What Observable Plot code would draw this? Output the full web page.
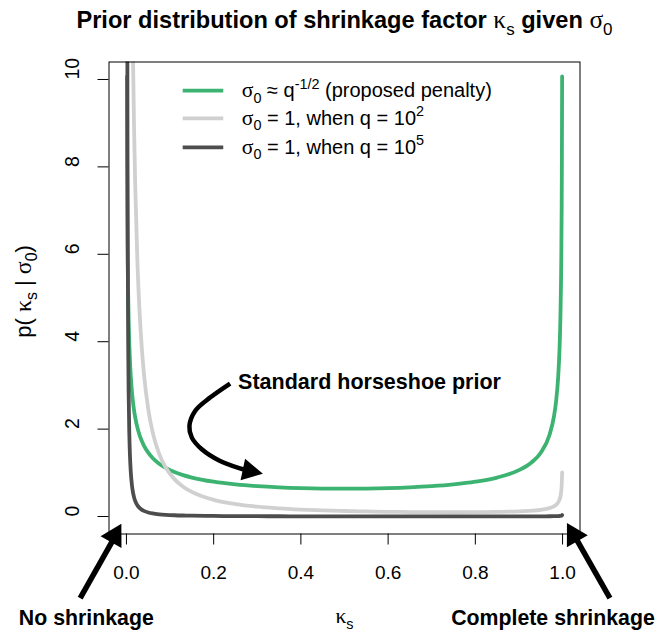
<!DOCTYPE html>
<html>
<head>
<meta charset="utf-8">
<script src="https://cdn.jsdelivr.net/npm/d3@7"></script>
<script src="https://cdn.jsdelivr.net/npm/@observablehq/plot@0.6"></script>
<style>
  html, body { margin: 0; padding: 0; background: white; }
  #chart { width: 657px; height: 637px; }
</style>
</head>
<body>
<div id="chart"></div>
<script>
// ---------- data ----------
const kappa = [0.001, 0.0015, 0.002, 0.0025, 0.003, 0.004, 0.005, 0.0065, 0.008, 0.01,
  0.0125, 0.015, 0.0175, 0.02, 0.025, 0.03, 0.035, 0.04, 0.05, 0.06, 0.075, 0.09, 0.11,
  0.13, 0.15, 0.2, 0.25, 0.3, 0.35, 0.4, 0.45, 0.5, 0.55, 0.6, 0.65, 0.7, 0.75, 0.8, 0.85,
  0.9, 0.93, 0.95, 0.97, 0.98, 0.985, 0.99, 0.993, 0.995, 0.997, 0.998, 0.9985, 0.999];

const densityProposed = [10.07, 8.225, 7.125, 6.374, 5.82, 5.043, 4.513, 3.961, 3.573, 3.199,
  2.865, 2.619, 2.427, 2.274, 2.039, 1.866, 1.732, 1.624, 1.461, 1.34, 1.2085, 1.1123, 1.0173,
  0.9465, 0.8914, 0.7958, 0.7351, 0.6946, 0.6674, 0.6497, 0.6398, 0.6366, 0.6398, 0.6497, 0.6674,
  0.6946, 0.7351, 0.7958, 0.8914, 1.061, 1.2476, 1.461, 1.866, 2.274, 2.619, 3.199, 3.818, 4.513,
  5.82, 7.125, 8.225, 10.07];

const densityQ100 = [91.6, 71.6, 59.5, 51.1, 44.9, 36.1, 30.2, 24.1, 19.94, 16.08,
  12.8, 10.54, 8.882, 7.631, 5.868, 4.7, 3.879, 3.274, 2.455, 1.931, 1.434, 1.1224, 0.8556,
  0.6824, 0.5624, 0.3826, 0.2855, 0.2263, 0.1872, 0.16, 0.1405, 0.1261, 0.1154, 0.1076, 0.1021,
  0.0988, 0.0977, 0.0992, 0.1047, 0.1178, 0.1341, 0.1537, 0.1923, 0.232, 0.2658, 0.3231, 0.3845,
  0.4535, 0.5837, 0.7139, 0.8237, 1.008];

const densityQ1e5 = [31.53, 17.23, 11.21, 8.03, 6.115, 3.977, 2.849, 1.924, 1.411, 1.0106,
  0.7242, 0.5518, 0.4383, 0.3594, 0.2578, 0.1966, 0.1564, 0.1284, 0.0924, 0.0706, 0.051, 0.0391,
  0.0292, 0.023, 0.0188, 0.01258, 0.0093, 0.0073, 0.006, 0.0051, 0.0045, 0.004, 0.0037, 0.0034,
  0.0032, 0.0031, 0.0031, 0.0031, 0.0033, 0.0037, 0.0042, 0.0049, 0.0061, 0.0073, 0.0084, 0.0102,
  0.0122, 0.0143, 0.0185, 0.0226, 0.026, 0.0319];

const seriesLabels = [
  "σ_{0} ≈ q^{-1/2} (proposed penalty)",
  "σ_{0} = 1, when q = 10^{2}",
  "σ_{0} = 1, when q = 10^{5}"
];
const seriesColors = ["#3cb371", "#d0d0d0", "#4d4d4d"];

const xTicks = [0, 0.2, 0.4, 0.6, 0.8, 1.0];
const yTicks = [0, 2, 4, 6, 8, 10];

const titleText = "Prior distribution of shrinkage factor κ_{s} given σ_{0}";
const xLabel = "κ_{s}";
const yLabel = "p( κ_{s} | σ_{0})";
const annotationTexts = ["Standard horseshoe prior", "No shrinkage", "Complete shrinkage"];

// ---------- annotation placement (data units) ----------
const legendPos = {x1: 0.129, x2: 0.222, xText: 0.2645, y: [9.746, 9.111, 8.447]};
const annotationPos = [
  {x: 0.256, y: 3.08},
  {x: -0.092, y: -2.325},
  {x: 0.978, y: -2.325}
];
const straightArrows = [
  {tail: [-0.1061, -1.867], tip: [-0.0105, -0.179]},
  {tail: [1.1086, -1.867], tip: [1.0112, -0.160]}
];
const curvedArrowX = [0.2377, 0.1918, 0.1575, 0.1444, 0.1499, 0.1728, 0.2148, 0.2835];
const curvedArrowY = [3.042, 2.721, 2.416, 2.073, 1.805, 1.539, 1.271, 1.031];
const curvedArrowTip = [0.314, 0.967];

// ---------- build table ----------
const series = [densityProposed, densityQ100, densityQ1e5];
const rows = [];
series.forEach((vals, s) => vals.forEach((v, i) => rows.push({s, kappa: kappa[i], density: v})));

const legendRows = seriesLabels.map((label, i) => ({i, label}));
const shaftFrac = 0.82;

const headMark = (index, scales) => {
  const g = d3.create("svg:g");
  const heads = [
    ...straightArrows.map(a => ({from: a.tail, to: a.tip, L: 21, w: 12})),
    {from: [curvedArrowX[curvedArrowX.length - 1], curvedArrowY[curvedArrowY.length - 1]], to: curvedArrowTip, L: 20.5, w: 11}
  ];
  for (const h of heads) {
    const x0 = scales.x(h.from[0]), y0 = scales.y(h.from[1]);
    const x1 = scales.x(h.to[0]), y1 = scales.y(h.to[1]);
    const len = Math.hypot(x1 - x0, y1 - y0);
    const ux = (x1 - x0) / len, uy = (y1 - y0) / len;
    const nx = -uy, ny = ux;
    const bx = x1 - h.L * ux, by = y1 - h.L * uy;
    g.append("path")
      .attr("d", `M${x1},${y1}L${bx + h.w * nx},${by + h.w * ny}L${bx - h.w * nx},${by - h.w * ny}Z`)
      .attr("fill", "black");
  }
  return g.node();
};

const plot = Plot.plot({
  width: 657,
  height: 637,
  marginTop: 61.5,
  marginBottom: 103.5,
  marginLeft: 108.5,
  marginRight: 77.5,
  style: {fontFamily: "'Liberation Sans', Arial, sans-serif", background: "white", color: "black"},
  x: {domain: [-0.04, 1.04], axis: null},
  y: {domain: [-0.4, 10.4], axis: null},
  marks: [
    // curves
    Plot.line(rows, {x: "kappa", y: "density", z: "s", stroke: d => seriesColors[d.s],
      strokeWidth: 3.8, curve: "monotone-x", clip: true}),
    Plot.frame({stroke: "black", strokeWidth: 1}),
    // axes
    Plot.axisX({ticks: xTicks, tickFormat: d3.format(".1f"), tickSize: 11, tickPadding: 20,
      fontSize: 19, label: null, stroke: "black"}),
    Plot.axisY({ticks: yTicks, tickFormat: () => "", tickSize: 11, label: null, stroke: "black"}),
    Plot.text(yTicks, {y: d => d, text: d => String(d), frameAnchor: "left", dx: -36.3,
      rotate: -90, fontSize: 19.5, fill: "black"}),
    // legend
    Plot.link(legendRows, {x1: legendPos.x1, x2: legendPos.x2, y1: d => legendPos.y[d.i],
      y2: d => legendPos.y[d.i], stroke: d => seriesColors[d.i], strokeWidth: 3.8}),
    Plot.text(legendRows, {x: legendPos.xText, y: d => legendPos.y[d.i], text: "label",
      textAnchor: "start", fontSize: 20, fill: "black"}),
    // titles & labels
    Plot.text([titleText], {frameAnchor: "top", dy: -50.5, fontSize: 23.6, fontWeight: "bold", fill: "black"}),
    Plot.text([xLabel], {x: 0.5, y: -2.3, fontSize: 20, fill: "black"}),
    Plot.text([yLabel], {x: -0.2345, y: 5.15, rotate: -90, fontSize: 22, fill: "black"}),
    Plot.text(annotationTexts, {x: (d, i) => annotationPos[i].x, y: (d, i) => annotationPos[i].y,
      textAnchor: "start", fontSize: 21.5, fontWeight: "bold", fill: "black",
      filter: (d, i) => i === 0}),
    Plot.text(annotationTexts, {x: (d, i) => annotationPos[i].x, y: (d, i) => annotationPos[i].y,
      fontSize: 21.3, fontWeight: "bold", fill: "black", filter: (d, i) => i > 0}),
    // arrows
    Plot.link(straightArrows, {
      x1: d => d.tail[0], y1: d => d.tail[1],
      x2: d => d.tail[0] + shaftFrac * (d.tip[0] - d.tail[0]),
      y2: d => d.tail[1] + shaftFrac * (d.tip[1] - d.tail[1]),
      stroke: "black", strokeWidth: 5.5, strokeLinecap: "butt"}),
    Plot.line(curvedArrowX.map((x, i) => i), {x: i => curvedArrowX[i], y: i => curvedArrowY[i],
      curve: "catmull-rom", stroke: "black", strokeWidth: 4.5, strokeLinecap: "butt"}),
    headMark
  ]
});

document.getElementById("chart").appendChild(plot);

// ---------- rich text (subscripts, superscripts, Greek in serif) ----------
const NS = "http://www.w3.org/2000/svg";
function richify(el) {
  const s = el.textContent;
  if (!/[_^]\{|σ|κ/.test(s)) return;
  const base = parseFloat(getComputedStyle(el).fontSize) || 16;
  const parts = [];
  let i = 0;
  const isMark = k => (s[k] === "_" || s[k] === "^") && s[k + 1] === "{";
  while (i < s.length) {
    if (isMark(i)) {
      const j = s.indexOf("}", i);
      parts.push({t: s.slice(i + 2, j), kind: s[i] === "_" ? "sub" : "sup"});
      i = j + 1;
    } else if (s[i] === "σ" || s[i] === "κ") {
      parts.push({t: s[i], kind: "greek"});
      i++;
    } else {
      let j = i;
      while (j < s.length && !isMark(j) && s[j] !== "σ" && s[j] !== "κ") j++;
      parts.push({t: s.slice(i, j), kind: "n"});
      i = j;
    }
  }
  el.textContent = "";
  el.setAttribute("xml:space", "preserve");
  let offset = 0;
  for (const p of parts) {
    const ts = document.createElementNS(NS, "tspan");
    let target = 0;
    if (p.kind === "sub") {
      target = 0.28 * base; ts.setAttribute("font-size", 0.72 * base); ts.setAttribute("font-weight", "normal");
    } else if (p.kind === "sup") {
      target = -0.42 * base; ts.setAttribute("font-size", 0.72 * base); ts.setAttribute("font-weight", "normal");
    } else if (p.kind === "greek") {
      ts.setAttribute("font-family", "'Liberation Serif', 'DejaVu Serif', serif");
      ts.setAttribute("font-weight", "normal");
      ts.setAttribute("font-size", 1.08 * base);
    }
    if (target !== offset) { ts.setAttribute("dy", target - offset); offset = target; }
    ts.textContent = p.t;
    el.appendChild(ts);
  }
}
plot.querySelectorAll("text").forEach(richify);
</script>
</body>
</html>
